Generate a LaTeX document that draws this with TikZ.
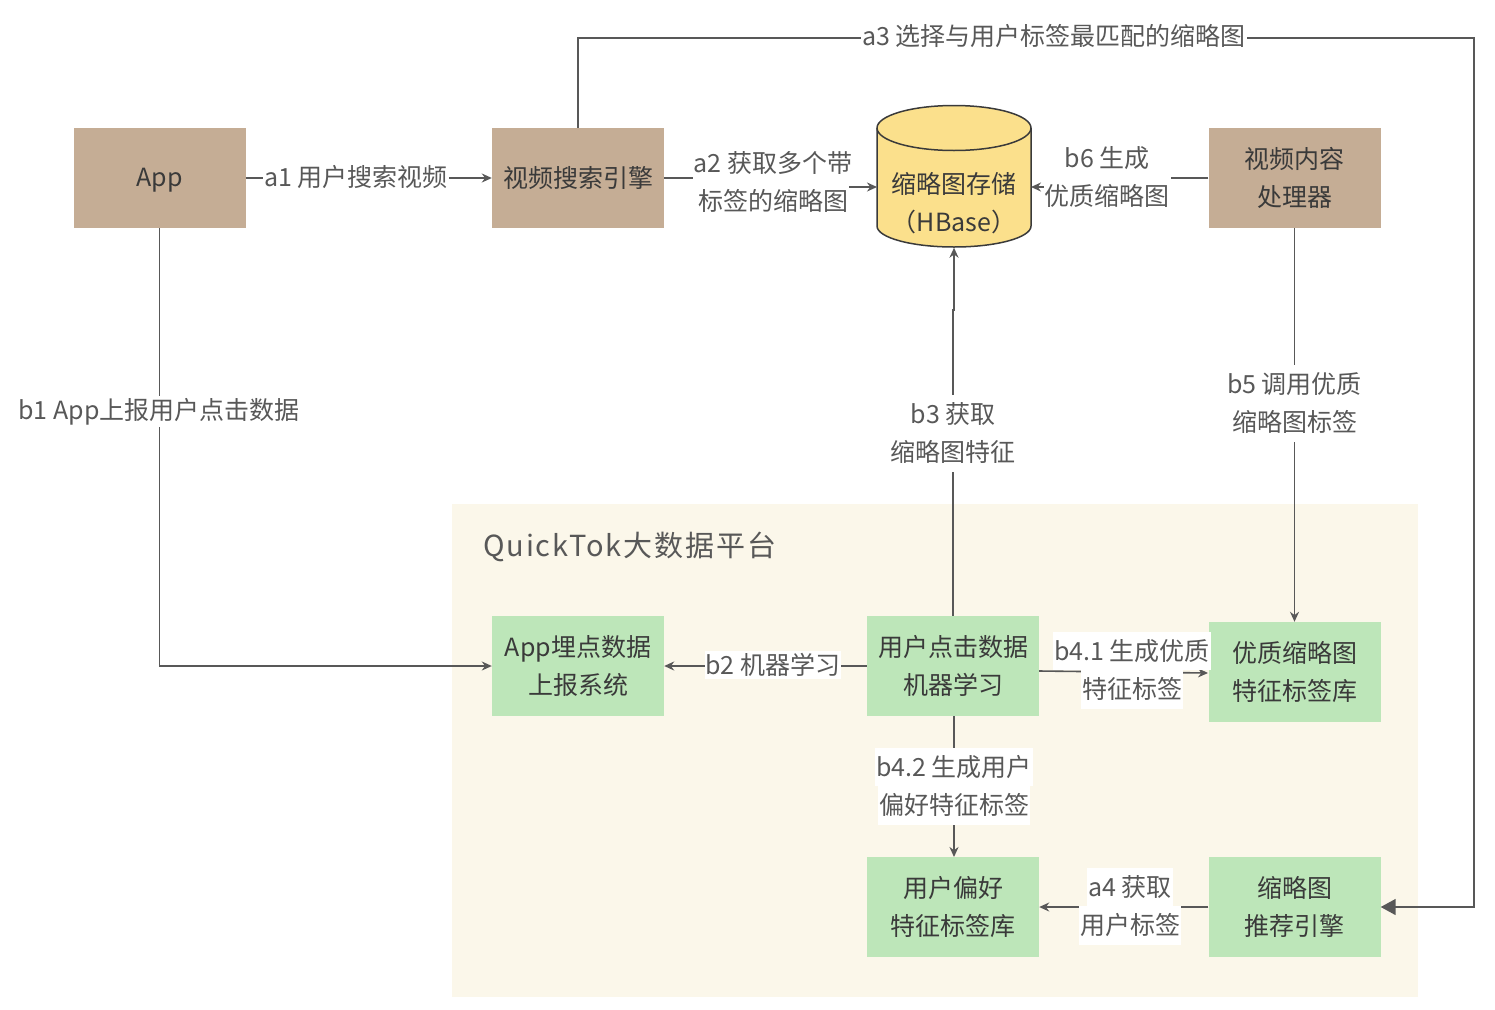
\documentclass[tikz,border=0pt]{standalone}
\usepackage{fontspec}
\setmainfont{Noto Sans CJK SC}
\usepackage{xcolor}
\usetikzlibrary{arrows.meta}
\definecolor{brownbox}{HTML}{C5AD95}
\definecolor{greenbox}{HTML}{BDE6B9}
\definecolor{yellowdb}{HTML}{FBE08C}
\definecolor{platformbg}{HTML}{FBF7EA}
\definecolor{linkgray}{HTML}{585858}
\definecolor{textdark}{HTML}{3A3A3A}
% one line of a two-line label, on its own white patch
\newcommand{\wl}[1]{{\setlength{\fboxsep}{0pt}\colorbox{white}{\rule[-9.75pt]{0pt}{38.5pt}\hspace{1pt}#1\hspace{1pt}}}}
\begin{document}
\begin{tikzpicture}
      [x=1pt,y=-1pt,
      every node/.style={font=\fontsize{25}{38.5}\selectfont, align=center, inner sep=0pt},
      sysbox/.style={minimum width=172pt, minimum height=100pt, text=textdark},
      brown/.style={sysbox, fill=brownbox},
      green/.style={sysbox, fill=greenbox},
      link/.style={draw=linkgray, line width=1.6pt, -{Stealth[length=10pt,width=9pt]}},
      bigtip/.style={draw=linkgray, line width=1.6pt, -{Triangle[length=15pt,width=16pt]}},
      lbl/.style={fill=white, text=linkgray, inner xsep=1pt, inner ysep=2pt},
      lbltwo/.style={text=linkgray},
      ]
      \useasboundingbox (0,0) rectangle (1495,1009);
      \fill[platformbg] (452,504) rectangle (1418,997);
      \node[text=linkgray, anchor=west, font=\fontsize{29}{36}\selectfont\addfontfeature{LetterSpace=6.5}] (platform) at (483,547)
        {QuickTok大数据平台};

      \node[brown] (app) at (159.5,178) {\rule{0pt}{23pt}App};
      \node[brown] (search) at (578,178) {视频搜索引擎};
      \node[brown] (proc) at (1294.5,178) {视频内容\\处理器};

      % cylinder of the store
      \node[minimum width=154pt, minimum height=142pt] (store) at (954,176.5) {};
      \draw[draw=textdark, line width=1.5pt, fill=yellowdb] (877,128)
        arc[start angle=180, end angle=0, x radius=77pt, y radius=22.5pt] -- (1031,226)
        arc[start angle=0, end angle=-180, x radius=77pt, y radius=21pt] -- cycle;
      \draw[draw=textdark, line width=1.5pt] (877,128)
        arc[start angle=180, end angle=360, x radius=77pt, y radius=22.5pt];
      \node[text=textdark] (storetext) at (954,203) {缩略图存储\\（HBase）};

      \node[green] (report) at (578,666) {App埋点数据\\上报系统};
      \node[green] (click) at (953,666) {用户点击数据\\机器学习};
      \node[green] (quality) at (1294.5,672) {优质缩略图\\特征标签库};
      \node[green] (pref) at (953,907) {用户偏好\\特征标签库};
      \node[green] (rec) at (1294.5,907) {缩略图\\推荐引擎};

      \coordinate (storeL) at (877,187);
      \coordinate (storeR) at (1031,187);
      \coordinate (cornerTL) at (578,38);
      \coordinate (cornerTR) at (1474,38);
      \coordinate (cornerBR) at (1474,907);
      \coordinate (cornerBL) at (159.5,666);

      \draw[link] (app.east) -- (search.west);
      \draw[link] (search.east) -- (770,178) -- (770,187) -- (storeL);
      \draw[bigtip] (search.north) -- (cornerTL) -- (cornerTR) -- (cornerBR) -- (rec.east);
      \draw[link] (rec.west) -- (pref.east);
      \draw[link] (app.south) -- (cornerBL) -- (report.west);
      \draw[link] (click.west) -- (report.east);
      \draw[link] (click.north) -- (953,310) -- (954,310) -- (store.south);
      \draw[link] (1039,671) -- (1208,673);
      \draw[link] (954,716) -- (954,857);
      \draw[link] (proc.south) -- (quality.north);
      \draw[link] (proc.west) -- (1107,178) -- (1107,187) -- (storeR);

      \node[lbl] (a1) at (356,177) {a1 用户搜索视频};
      \node[lbltwo] (a2) at (773,182) {\wl{a2 获取多个带}\\\wl{标签的缩略图}};
      \node[lbl] (a3) at (1054,36) {a3 选择与用户标签最匹配的缩略图};
      \node[lbltwo] (a4) at (1130,906) {\wl{a4 获取}\\\wl{用户标签}};
      \node[lbl] (b1) at (159,411.5) {b1 App上报用户点击数据};
      \node[lbl] (b2) at (773,665) {b2 机器学习};
      \node[lbltwo] (b3) at (953,433) {\wl{b3 获取}\\\wl{缩略图特征}};
      \node[lbltwo] (b41) at (1132,670) {\wl{b4.1 生成优质}\\\wl{特征标签}};
      \node[lbltwo] (b42) at (954,786) {\wl{b4.2 生成用户}\\\wl{偏好特征标签}};
      \node[lbltwo] (b5) at (1294.5,403) {\wl{b5 调用优质}\\\wl{缩略图标签}};
      \node[lbltwo] (b6) at (1107,177) {\wl{b6 生成}\\\wl{优质缩略图}};
      \end{tikzpicture}
\end{document}
